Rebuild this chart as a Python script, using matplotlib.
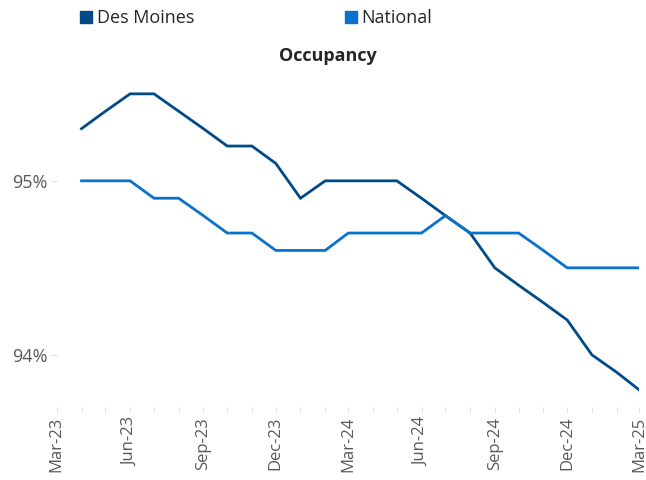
import matplotlib
matplotlib.use("Agg")
import matplotlib.pyplot as plt
import matplotlib.dates as mdates
from matplotlib.lines import Line2D
import pandas as pd

plt.rcParams['font.family'] = ['Open Sans', 'DejaVu Sans']

months = pd.date_range('2023-04-01', '2025-03-01', freq='MS')
des_moines = [95.3, 95.4, 95.5, 95.5, 95.4, 95.3, 95.2, 95.2, 95.1, 94.9, 95.0, 95.0,
              95.0, 95.0, 94.9, 94.8, 94.7, 94.5, 94.4, 94.3, 94.2, 94.0, 93.9, 93.8]
national = [95.0, 95.0, 95.0, 94.9, 94.9, 94.8, 94.7, 94.7, 94.6, 94.6, 94.6, 94.7,
            94.7, 94.7, 94.7, 94.8, 94.7, 94.7, 94.7, 94.6, 94.5, 94.5, 94.5, 94.5]
series_names = ['Des Moines', 'National']
colors = ['#004B87', '#0B72CC']

fig = plt.figure(figsize=(6.46, 4.8), dpi=100)
ax = fig.add_axes([0.088, 0.152, 0.901, 0.725])

ax.plot(months, des_moines, color=colors[0], lw=2.0, solid_joinstyle='miter')
ax.plot(months, national, color=colors[1], lw=2.0, solid_joinstyle='miter')

ax.set_xlim(pd.Timestamp('2023-03-01'), pd.Timestamp('2025-03-01'))
ax.set_ylim(93.7, 95.7)
ax.set_yticks([94, 95])
ax.set_yticklabels(['94%', '95%'])

ax.xaxis.set_major_locator(mdates.MonthLocator(bymonth=[3, 6, 9, 12]))
ax.xaxis.set_minor_locator(mdates.MonthLocator())
ax.xaxis.set_major_formatter(mdates.DateFormatter('%b-%y'))

for s in ax.spines.values():
    s.set_visible(False)
ax.tick_params(axis='both', which='both', colors='#e3e3e3', labelcolor='#595959',
               length=4, width=0.8)
ax.tick_params(axis='x', labelsize=12, pad=3, labelrotation=90)
ax.tick_params(axis='y', labelsize=13, pad=3)

fig.text(0.508, 1 - 56 / 480, 'Occupancy', fontsize=13, fontweight='bold',
         color='#262626', ha='center', va='center')

handles = [Line2D([], [], ls='none', marker='s', markersize=8.6, color=c) for c in colors]
fig.legend(handles, series_names, loc='center left', bbox_to_anchor=(0.111, 1 - 18 / 480),
           ncol=2, frameon=False, fontsize=13, handlelength=0.8, handletextpad=0.2,
           columnspacing=8.27, labelcolor='#262626', borderaxespad=0)

fig.savefig('out.png', dpi=100)
